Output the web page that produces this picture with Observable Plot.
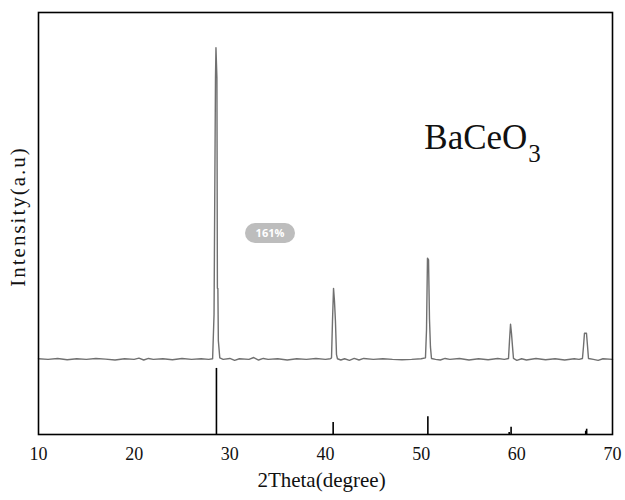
<!DOCTYPE html>
<html>
<head>
<meta charset="utf-8">
<script src="https://cdn.jsdelivr.net/npm/d3@7"></script>
<script src="https://cdn.jsdelivr.net/npm/@observablehq/plot@0.6"></script>
<style>
  html, body { margin: 0; padding: 0; background: #fff; }
  #wrap { position: relative; width: 625px; height: 500px; }
  #badge { position: absolute; left: 245px; top: 223px; width: 50px; height: 20px; border-radius: 10px;
    background: #bdbdbd; color: #fff; font: bold 11px "Open Sans", sans-serif; line-height: 20px; text-align: center; }
</style>
</head>
<body>
<div id="wrap"><div id="badge">161%</div></div>
<script>
// Measured XRD profile (2θ in degrees, intensity in arbitrary units, baseline = 0)
const twoTheta = [10,11,12,13,14,15,16,17,18,19,20,20.5,21,21.5,22,23,24,25,26,27,27.8,28.2,
  28.35,28.5,28.55,28.65,28.7,28.75,28.8,28.95,29.3,30,30.5,31,32,32.5,33,33.5,34,35,36,37,38,39,40,40.5,
  40.63,40.73,40.84,40.94,41.04,41.15,41.25,41.6,42,42.5,43,43.5,44,45,46,47,48,49,50,
  50.45,50.56,50.66,50.77,50.87,50.97,51.08,51.5,52,52.5,53,54,55,56,57,58,58.7,
  59.13,59.23,59.34,59.44,59.55,59.65,60,60.5,61,62,63,64,65,66,66.5,
  66.86,66.97,67.07,67.28,67.39,67.49,68,68.5,69,70];
const intensity = [2,0,3,-1,2,0,3,1,-2,2,0,4,-2,3,0,2,-1,3,0,2,0,2,
  145,903,1000,903,228,228,60,5,0,3,-3,2,0,6,-2,3,0,2,-2,2,0,3,0,2,
  5,122,228,186,122,15,2,-2,2,-3,3,-2,3,0,2,0,-1,0,2,
  5,96,325,319,129,40,3,0,-2,3,0,3,-2,2,-1,3,0,
  3,58,113,84,40,3,-3,2,-2,3,-1,2,-2,2,0,
  3,42,84,84,42,3,0,-3,2,0];

// Reference pattern sticks (2θ and relative intensity %)
const refTheta = [28.6, 40.8, 50.7, 59.2, 59.4, 67.2, 67.3];
const refRel   = [100, 18, 27, 3, 11, 5, 8];

// Axis ticks and labels
const xTicks = [10, 20, 30, 40, 50, 60, 70];
const xDomain = [10, 70];
const yDomain = [-241, 1113];
const stickScale = 2.12;
const xLabel = "2Theta(degree)";
const yLabel = "Intensity(a.u)";
const compound = ["BaCeO", "3"];
const compoundPos = {x: 61.1, y: 675};

const profile = twoTheta.map((t, i) => ({t, v: intensity[i]}));
const sticks = refTheta.map((t, i) => ({t, h: yDomain[0] + refRel[i] * stickScale}));

const serif = "'Liberation Serif', 'Times New Roman', serif";

const chart = Plot.plot({
  width: 625,
  height: 500,
  marginLeft: 38,
  marginRight: 13,
  marginTop: 12,
  marginBottom: 66,
  style: {background: "transparent", fontFamily: serif},
  x: {domain: xDomain, ticks: xTicks},
  y: {domain: yDomain, axis: null},
  marks: [
    Plot.axisX({ticks: xTicks, tickSize: 0, tickPadding: 13, fontSize: 18, fill: "#111", label: null, tickFormat: d => String(d)}),
    Plot.line(profile, {x: "t", y: "v", stroke: "#707070", strokeWidth: 1.4}),
    Plot.ruleX(sticks, {x: "t", y1: yDomain[0], y2: "h", stroke: "#000", strokeWidth: 1.6}),
    Plot.text([compound[0]], {x: compoundPos.x, y: compoundPos.y, text: d => d, textAnchor: "end", lineAnchor: "bottom", fontSize: 35, fill: "#111", fontFamily: serif}),
    Plot.text([compound[1]], {x: compoundPos.x, y: compoundPos.y, text: d => d, textAnchor: "start", lineAnchor: "bottom", dx: 1, dy: 13, fontSize: 25, fill: "#111", fontFamily: serif}),
    Plot.text([xLabel], {frameAnchor: "bottom", text: d => d, dx: -4, dy: 52, fontSize: 21, fill: "#111", fontFamily: serif}),
    Plot.text([yLabel], {frameAnchor: "left", textAnchor: "middle", text: d => d, rotate: -90, dx: -20, dy: -7, fontSize: 21, fill: "#111", fontFamily: serif}),
    Plot.frame({stroke: "#000", strokeWidth: 1.6})
  ]
});
d3.select(chart).selectAll("text").filter(function() { return this.textContent === yLabel; })
  .attr("letter-spacing", "2px");
document.getElementById("wrap").prepend(chart);
chart.style.position = "absolute";
chart.style.left = "0";
chart.style.top = "0";
</script>
</body>
</html>
